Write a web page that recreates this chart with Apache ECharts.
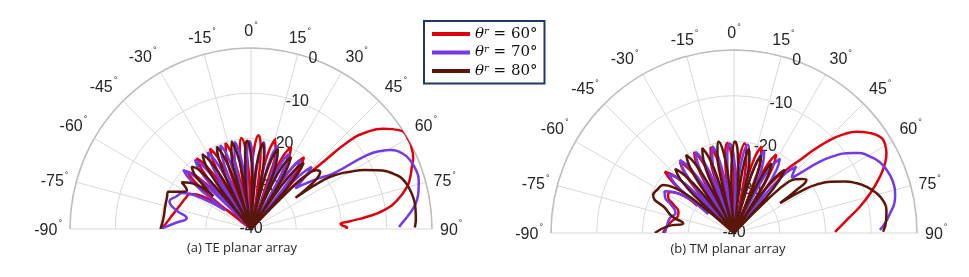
<!DOCTYPE html>
<html><head><meta charset="utf-8">
<script src="https://cdn.jsdelivr.net/npm/echarts@6/dist/echarts.min.js"></script>
<style>html,body{margin:0;padding:0;background:#fff}#c{width:969px;height:277px}</style>
</head><body><div id="c"></div>
<script>
// ---- data: [angle (deg), gain (dB)] ----
const seriesNames = ['θʳ = 60°', 'θʳ = 70°', 'θʳ = 80°'];
const seriesColors = ['#e0000b', '#7538e8', '#5a1608'];
const captions = ['(a) TE planar array', '(b) TM planar array'];
const radialMin = -40, radialMax = 0, radialStep = 10;
const angleMin = -90, angleMax = 90, angleStep = 15;

const teRed = [[-90,-20],[-87,-21],[-82,-22],[-77,-22.8],[-71,-23.5],[-65,-24],[-60,-24.5],[-56,-27],
[-53,-40],[-51.5,-28.5],[-49.9,-23.5],[-48,-21],[-45.8,-23.5],[-44.2,-28.5],
[-42.7,-40],[-41.1,-27.8],[-39.5,-22.8],[-37.5,-20.3],[-35.4,-22.8],[-33.8,-27.8],
[-32.2,-40],[-30.6,-27.6],[-29,-22.6],[-27,-20.1],[-24.9,-22.6],[-23.3,-27.6],
[-21.7,-40],[-20.1,-27.7],[-18.5,-22.7],[-16.5,-20.2],[-14.4,-22.7],[-12.8,-27.7],
[-11.2,-40],[-9.6,-27.3],[-8,-22.3],[-6,-19.8],[-3.9,-22.3],[-2.3,-27.3],
[-0.7,-40],[0.9,-26.7],[2.5,-21.7],[4.5,-19.2],[6.7,-21.7],[8.3,-26.7],
[9.9,-40],[11.5,-26.9],[13.1,-21.9],[15.2,-19.4],[17.4,-21.9],[19,-26.9],
[20.6,-40],[22.2,-27.3],[23.8,-22.3],[26,-19.8],[28,-22.3],[29.6,-27.3],
[31.2,-40],[32.8,-27.8],[34.3,-22.8],[36.5,-20.3],[38.4,-22.8],[40,-27.8],
[41.5,-40],[43.5,-30],[45.3,-24],[46.8,-20],[48.2,-10.6],[50.1,-6.6],[52.9,-3.3],[56.5,-0.5],[60.9,0],
[63.5,-0.3],[66.1,-0.8],[68.9,-1.9],[72,-3],[74.9,-4.3],[78.9,-7.1],[82,-10.4],[84,-14.2],[85.5,-18],
[86.8,-20.2],[88,-19.6],[89,-18.8],[90,-19]];

const tePurple = [[-90,-20],[-85,-23.5],[-80.5,-25.6],[-76,-23],[-71.4,-21],[-66.5,-22],[-62,-23],[-58,-27],
[-54,-33],[-52.5,-27.7],[-51,-22.7],[-49,-20.2],[-47,-22.7],[-45.5,-27.7],
[-44,-40],[-42.5,-27.8],[-41.1,-22.8],[-39,-20.3],[-37.1,-22.8],[-35.7,-27.8],
[-34.2,-40],[-32.8,-28],[-31.4,-23],[-29.5,-20.5],[-27.5,-23],[-26.1,-28],
[-24.7,-40],[-23.3,-27.8],[-21.9,-22.8],[-20,-20.3],[-18,-22.8],[-16.6,-27.8],
[-15.2,-40],[-13.8,-28],[-12.4,-23],[-10.5,-20.5],[-8.5,-23],[-7.1,-28],
[-5.7,-40],[-4.3,-28.1],[-2.9,-23.1],[-1,-20.6],[0.9,-23.1],[2.3,-28.1],
[3.7,-40],[5.1,-28.1],[6.5,-23.1],[8.3,-20.6],[10.2,-23.1],[11.6,-28.1],
[13,-40],[14.4,-28.3],[15.7,-23.3],[17.5,-20.8],[19.3,-23.3],[20.6,-28.3],
[22,-40],[23.4,-29],[24.7,-24],[26.5,-21.5],[28.3,-24],[29.6,-29],
[31,-40],[32.4,-28.8],[33.7,-23.8],[35.5,-21.3],[37.3,-23.8],[38.6,-28.8],
[40,-40],[41.2,-28.3],[42.6,-23.3],[44.3,-20.8],[46,-23.3],[47.4,-26.7],
[50,-24.5],[53,-21.5],[56,-18],[57.5,-9.6],[59,-6.5],[60.5,-4.6],[63.5,-2.6],[66.7,-1.7],[70,-1.3],
[73.8,-1.4],[77,-2],[80.2,-2.8],[83,-4],[85.6,-5.4],[88.6,-7],[89.3,-7.2]];

const teBrown = [[-90,-20],[-83,-20.5],[-75.5,-20.4],[-70,-20.2],[-65.7,-20],[-62,-22.5],[-59,-23.5],[-56,-21.5],[-53,-23],
[-49,-29],[-47.4,-25.5],[-45.8,-22.5],[-43.5,-21],[-41.4,-22.5],[-40,-27.5],
[-38.5,-40],[-36.9,-27.8],[-35.3,-22.8],[-33,-20.3],[-30.9,-22.8],[-29.3,-27.8],
[-27.7,-40],[-26.2,-27.8],[-24.6,-22.8],[-22.5,-20.3],[-20.6,-22.8],[-19,-27.8],
[-17.5,-40],[-16,-27.7],[-14.5,-22.7],[-12.5,-20.2],[-10.5,-22.7],[-9,-27.7],
[-7.5,-40],[-6,-28],[-4.4,-23],[-2.5,-20.5],[-0.4,-23],[1.2,-28],
[2.7,-40],[4.3,-28.5],[5.9,-23.5],[8,-21],[10,-23.5],[11.6,-28.5],
[13.2,-40],[14.8,-28.8],[16.4,-23.8],[18.5,-21.3],[20.6,-23.8],[22.1,-28.8],
[23.7,-40],[25.2,-29.3],[26.7,-24.3],[29,-21.8],[30.7,-24.3],[32.2,-29.3],
[33.7,-40],[35.1,-28.8],[36.5,-23.8],[38.5,-21.3],[40.2,-23.8],[41.6,-28.8],
[43,-40],[44.5,-28],[46,-23],[48,-20.6],[50.5,-20.2],[52.5,-21.5],[54,-25],[55,-28],
[56,-20.5],[58,-17],[60,-14.7],[62.5,-11.8],[65,-9.3],[69.8,-5.6],[73,-4.4],[76.3,-3.8],[80,-3.4],
[83.5,-3.4],[86.5,-3.5],[88.7,-3.7],[89.5,-3.8]];

const tmRed = [[-90,-24.5],[-85,-25.2],[-79,-26.2],[-73,-27.2],[-69,-27],[-65,-25.5],[-61,-23.5],[-57,-23.5],
[-53.5,-30],[-51.9,-27.3],[-50.3,-22.3],[-48.4,-19.8],[-46,-22.3],[-44.4,-27.3],
[-42.8,-40],[-41.2,-28],[-39.5,-23],[-37.3,-20.5],[-35.1,-23],[-33.4,-28],
[-31.8,-40],[-30.1,-27.8],[-28.5,-22.8],[-26.2,-20.3],[-24,-22.8],[-22.4,-27.8],
[-20.7,-40],[-19,-28],[-17.4,-23],[-15.2,-20.5],[-13,-23],[-11.4,-28],
[-9.7,-40],[-8,-27.8],[-6.4,-22.8],[-4.2,-20.3],[-2,-22.8],[-0.4,-27.8],
[1.3,-40],[2.9,-27.8],[4.6,-22.8],[6.8,-20.3],[8.9,-22.8],[10.6,-27.8],
[12.2,-40],[13.8,-27.7],[15.4,-22.7],[17.6,-20.2],[19.8,-22.7],[21.4,-27.7],
[23,-40],[24.6,-28],[26.2,-23],[28.2,-20.5],[30.3,-23],[31.9,-28],
[33.5,-40],[35.5,-29],[37,-25.5],[38.4,-23.8],[40,-21.5],[42.1,-18.5],[44,-14.5],[45.9,-10.8],[48,-7.8],
[50.5,-5.2],[53.5,-3.2],[56.6,-1.8],[59.5,-1.7],[62.4,-2.4],[65.5,-3.8],[68.9,-5.8],[73.5,-8.8],
[78.2,-11.9],[84,-15.5],[89.3,-17.9]];

const tmPurple = [[-90,-24.9],[-83,-25.3],[-77,-25.6],[-71,-26.5],[-66,-25],[-62.5,-23],[-59,-22.3],[-56,-24],
[-53.5,-33],[-51.8,-28.3],[-50.1,-23.3],[-47.8,-20.8],[-45.6,-23.3],[-43.9,-28.3],
[-42.2,-40],[-40.5,-27.7],[-38.8,-22.7],[-36.5,-20.2],[-34.3,-22.7],[-32.6,-27.7],
[-30.9,-40],[-29.2,-27.9],[-27.5,-22.9],[-25.2,-20.4],[-23,-22.9],[-21.3,-27.9],
[-19.6,-40],[-17.9,-28],[-16.2,-23],[-13.9,-20.5],[-11.7,-23],[-10,-28],
[-8.3,-40],[-6.6,-27.9],[-4.9,-22.9],[-2.6,-20.4],[-0.3,-22.9],[1.4,-27.9],
[3.1,-40],[4.8,-28],[6.5,-23],[8.8,-20.5],[11.1,-23],[12.8,-28],
[14.5,-40],[16.2,-28.4],[17.9,-23.4],[20.2,-20.9],[22.5,-23.4],[24.3,-28.4],
[26,-40],[27.7,-28.4],[29.4,-23.4],[31.7,-20.9],[34,-23.4],[35.8,-28.4],
[37.5,-40],[39.2,-27.6],[40.9,-22.6],[43.2,-20.1],[45.2,-22],[46.5,-22.5],
[47.9,-20.5],[50.3,-15.6],[52.5,-12.3],[54.7,-9.8],[57.5,-7.5],[60.7,-5.9],[64,-4.6],[67.6,-3.9],
[72,-3.5],[77.3,-3.9],[80,-4.5],[82,-5.3],[86,-6.8],[88.8,-8.1]];

const tmBrown = [[-90,-22.7],[-84,-25.5],[-79.2,-28.7],[-75,-26],[-70.2,-24],[-65,-20.5],[-60,-20.8],
[-55.8,-21.3],[-52.5,-24],[-50.5,-28],
[-48.5,-40],[-46.8,-28.5],[-45,-23.5],[-42.5,-21],[-40.5,-23.5],[-38.7,-28.5],
[-37,-40],[-35.3,-27.5],[-33.7,-22.5],[-31.5,-20],[-29.3,-22.5],[-27.6,-27.5],
[-26,-40],[-24.3,-27.7],[-22.7,-22.7],[-20.5,-20.2],[-18.3,-22.7],[-16.6,-27.7],
[-15,-40],[-13.4,-27.3],[-11.8,-22.3],[-9.5,-19.8],[-7.4,-22.3],[-5.8,-27.3],
[-4.2,-40],[-2.7,-27.5],[-1.2,-22.5],[0.5,-20],[2.7,-22.5],[4.2,-27.5],
[5.7,-40],[7.1,-28.9],[8.4,-23.9],[10,-21.4],[12.1,-23.9],[13.4,-28.9],
[14.8,-40],[16.1,-29.5],[17.5,-24.5],[19.2,-22],[21,-24.5],[22.4,-29.5],
[23.7,-40],[25.2,-30.2],[26.6,-25.2],[28.2,-22.7],[30.6,-25.2],[32,-30.2],
[33.5,-40],[35,-29.8],[36.6,-24.8],[38.7,-22.3],[40.6,-24.8],[42.2,-29.8],
[43.7,-40],[45.2,-28.5],[46.7,-24],[48.7,-22.2],[51.5,-21],[53.8,-20.4],[55.5,-23.5],[57,-28],
[58.4,-21.4],[60,-18.5],[61.9,-16.2],[65,-13.3],[68,-11],[71,-9.2],[74.5,-7.6],[78,-6.6],[81.4,-6.3],
[85,-6.6],[89.5,-7.4]];

// ---- chart ----
const panels = [
  {center: [251, 229], radius: 181, data: [teRed, tePurple, teBrown], caption: captions[0], capX: 242, capY: 242},
  {center: [734, 233], radius: 183, data: [tmRed, tmPurple, tmBrown], caption: captions[1], capX: 728, capY: 243}
];
const txt = '#262626';
const polar = [], angleAxis = [], radiusAxis = [], series = [], title = [];
panels.forEach((p, k) => {
  const main = polar.length;
  polar.push({center: p.center, radius: p.radius});
  polar.push({center: p.center, radius: p.radius});
  angleAxis.push({
    polarIndex: main, type: 'value', min: angleMin, max: angleMax, interval: angleStep,
    startAngle: 180, endAngle: 0, clockwise: true,
    axisLine: {show: true, lineStyle: {color: '#bdbdbd', width: 1.5}},
    axisTick: {show: false},
    splitLine: {show: true, lineStyle: {color: '#d9d9d9', width: 1}},
    axisLabel: {show: true, margin: 8, showMinLabel: true, showMaxLabel: true,
      formatter: v => '{n|' + v + '}{d|°}',
      rich: {n: {fontSize: 16, color: txt, fontFamily: 'Liberation Sans', padding: [3, 0, 0, 0]},
             d: {fontSize: 9, color: txt, fontFamily: 'Liberation Sans', verticalAlign: 'top', padding: [0, 0, 0, 1]}}}
  });
  radiusAxis.push({
    polarIndex: main, type: 'value', min: radialMin, max: radialMax, interval: radialStep,
    axisLine: {show: false}, axisTick: {show: false}, axisLabel: {show: false},
    splitLine: {show: true, lineStyle: {color: '#d9d9d9', width: 1}}
  });
  angleAxis.push({polarIndex: main + 1, type: 'value', min: 0, max: 360, startAngle: 70, show: false});
  radiusAxis.push({
    polarIndex: main + 1, type: 'value', min: radialMin, max: radialMax, interval: radialStep,
    axisLine: {show: false}, axisTick: {show: false}, splitLine: {show: false},
    axisLabel: {show: true, margin: 0, align: 'center', verticalAlign: 'middle', showMinLabel: true, showMaxLabel: true,
      fontSize: 16, color: txt, fontFamily: 'Liberation Sans'}
  });
  p.data.forEach((pts, i) => {
    series.push({
      type: 'line', name: seriesNames[i], coordinateSystem: 'polar', polarIndex: main,
      data: pts.map(q => [q[1], q[0]]),
      showSymbol: false, symbol: 'none', smooth: 0.5, clip: false,
      lineStyle: {color: seriesColors[i], width: 2.5}, itemStyle: {color: seriesColors[i]},
      emphasis: {disabled: true}
    });
  });
  title.push({text: p.caption, left: p.capX, top: p.capY, textAlign: 'center', padding: 0,
    textStyle: {fontSize: 13, fontWeight: 'normal', color: txt, fontFamily: 'Open Sans'}});
});

const chart = echarts.init(document.getElementById('c'), null, {renderer: 'canvas'});
chart.setOption({
  animation: false,
  backgroundColor: '#fff',
  title: title,
  polar: polar, angleAxis: angleAxis, radiusAxis: radiusAxis, series: series,
  legend: {
    left: 424, top: 21, orient: 'vertical', icon: 'rect', itemWidth: 38, itemHeight: 4, itemGap: 3,
    padding: [5, 7, 5, 8], borderColor: '#203864', borderWidth: 2, backgroundColor: '#fff',
    data: seriesNames,
    formatter: n => '{i|θ}{s|r}{n| = ' + n.split('= ')[1] + '}',
    textStyle: {rich: {
      i: {fontFamily: 'DejaVu Serif', fontStyle: 'italic', fontSize: 15, color: '#111', lineHeight: 16},
      s: {fontFamily: 'DejaVu Serif', fontStyle: 'italic', fontSize: 10, color: '#111', verticalAlign: 'top', lineHeight: 16},
      n: {fontFamily: 'DejaVu Serif', fontSize: 15, color: '#111', lineHeight: 16}
    }}
  }
});
</script></body></html>
